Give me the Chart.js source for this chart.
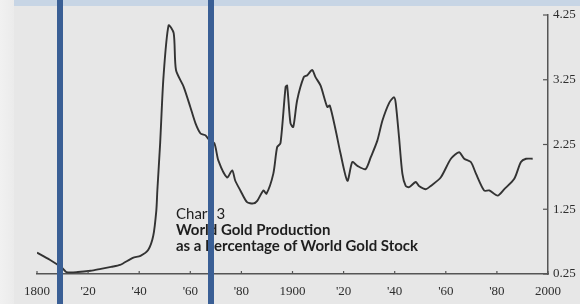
<!DOCTYPE html>
<html>
<head>
<meta charset="utf-8">
<script src="https://cdn.jsdelivr.net/npm/chart.js@4"></script>
<style>
  html, body { margin: 0; padding: 0; }
  body { width: 580px; height: 304px; background: #e7e7e7; position: relative; overflow: hidden; }
  #leftStrip { position: absolute; left: 0; top: 0; width: 14px; height: 304px; background: linear-gradient(to right, #f1f1f1, #ebebeb); }
  #topBand { position: absolute; left: 14px; top: 0; width: 566px; height: 6px; background: #c7d5e5; }
  #wrap { position: absolute; left: 0; top: 0; width: 580px; height: 304px; }
  #caption { position: absolute; left: 176px; top: 205px; font-family: Lato, "Open Sans", sans-serif; color: #1e1e1e; font-size: 15px; line-height: 16px; }
  #caption .b { font-weight: bold; }
  .marker { position: absolute; top: 0; width: 6px; height: 304px; background: #3a5f95; }
</style>
</head>
<body>
<div id="leftStrip"></div>
<div id="topBand"></div>
<div id="wrap"><canvas id="goldChart" width="580" height="304"></canvas></div>
<div id="caption">
  <div>Chart 3</div>
  <div class="b">World Gold Production</div>
  <div class="b">as a Percentage of World Gold Stock</div>
</div>
<div class="marker" id="m0"></div>
<div class="marker" id="m1"></div>
<script>
// Datos (año, % producción / stock)
const years = [1800, 1805, 1810, 1811.5, 1816, 1821, 1825, 1829, 1832.5, 1837.5,
  1840.5, 1843.5, 1845.5, 1846.7, 1847.1, 1848.2, 1849.5, 1851.5, 1853.5, 1854.4,
  1857.4, 1860, 1862, 1864, 1866, 1867, 1869.4, 1871, 1874.4, 1876.4,
  1877.6, 1879.6, 1882.2, 1884.7, 1886.2, 1888.6, 1889.8, 1892.5, 1894, 1895.3,
  1897.3, 1897.9, 1899.2, 1900.3, 1901.8, 1904.4, 1905.8, 1907.7, 1909, 1911,
  1913.6, 1914.6, 1916.9, 1918.8, 1921.5, 1923.4, 1925.4, 1928.6, 1930.6, 1933.2,
  1935.2, 1937.8, 1939.7, 1940.4, 1941.7, 1943, 1944.3, 1945.6, 1948.2, 1949.5,
  1952.2, 1954.1, 1958, 1962, 1965.2, 1967.2, 1969.8, 1971.8, 1975, 1977,
  1980.3, 1982.9, 1986.8, 1989.4, 1991.4, 1994];
const values = [0.58, 0.47, 0.34, 0.28, 0.28, 0.30, 0.33, 0.36, 0.39, 0.50,
  0.53, 0.62, 0.84, 1.23, 1.54, 2.27, 3.29, 4.09, 3.97, 3.40,
  3.14, 2.83, 2.58, 2.42, 2.39, 2.34, 2.27, 2.00, 1.74, 1.85,
  1.69, 1.54, 1.36, 1.34, 1.38, 1.54, 1.49, 1.80, 2.21, 2.27,
  3.14, 3.16, 2.58, 2.52, 2.93, 3.29, 3.32, 3.40, 3.29, 3.16,
  2.83, 2.85, 2.47, 2.11, 1.69, 1.98, 1.92, 1.87, 2.05, 2.31,
  2.62, 2.89, 2.98, 2.89, 2.36, 1.80, 1.61, 1.59, 1.67, 1.61,
  1.56, 1.61, 1.74, 2.03, 2.13, 2.03, 1.98, 1.80, 1.54, 1.54,
  1.46, 1.56, 1.72, 1.98, 2.03, 2.03];

const xTicks = [1800, 1820, 1840, 1860, 1880, 1900, 1920, 1940, 1960, 1980, 2000];
const xTickLabels = ['1800', "'20", "'40", "'60", "'80", '1900', "'20", "'40", "'60", "'80", '2000'];
const yTicks = [0.25, 1.25, 2.25, 3.25, 4.25];
const markerYears = [1809, 1868]; // las dos barras azules

// Marcas pequeñas hacia dentro en los ejes + barras azules
const innerTicks = {
  id: 'innerTicks',
  afterDraw(chart) {
    const ctx = chart.ctx;
    const xs = chart.scales.x, ys = chart.scales.y;
    const a = chart.chartArea;
    ctx.save();
    ctx.strokeStyle = '#555';
    ctx.lineWidth = 1.2;
    xTicks.forEach(v => {
      const px = xs.getPixelForValue(v);
      ctx.beginPath(); ctx.moveTo(px, a.bottom); ctx.lineTo(px, a.bottom - 3); ctx.stroke();
    });
    yTicks.forEach(v => {
      const py = ys.getPixelForValue(v);
      ctx.beginPath(); ctx.moveTo(a.right, py); ctx.lineTo(a.right - 5, py); ctx.stroke();
    });
    ctx.restore();
    markerYears.forEach((yr, i) => {
      document.getElementById('m' + i).style.left = (xs.getPixelForValue(yr) - 3) + 'px';
    });
  }
};

const ctx = document.getElementById('goldChart').getContext('2d');
new Chart(ctx, {
  type: 'line',
  data: {
    datasets: [{
      data: years.map((yr, i) => ({ x: yr, y: values[i] })),
      borderColor: '#333',
      borderWidth: 1.9,
      pointRadius: 0,
      tension: 0.25,
      fill: false
    }]
  },
  options: {
    responsive: false,
    animation: false,
    layout: { padding: { left: 37, top: 15, right: 0, bottom: 0 } },
    plugins: { legend: { display: false }, tooltip: { enabled: false } },
    scales: {
      x: {
        type: 'linear',
        min: 1800,
        max: 2000,
        afterFit(scale) { scale.height = 30; },
        afterBuildTicks(scale) { scale.ticks = xTicks.map(v => ({ value: v })); },
        grid: { display: false, drawTicks: false },
        border: { display: true, color: '#555', width: 1.5 },
        ticks: {
          padding: 10,
          color: '#2e2e2e',
          font: { family: 'Liberation Serif', size: 13 },
          maxRotation: 0,
          autoSkip: false,
          callback: (v) => xTickLabels[xTicks.indexOf(v)]
        }
      },
      y: {
        position: 'right',
        min: 0.25,
        max: 4.25,
        afterFit(scale) { scale.width = 32; },
        afterBuildTicks(scale) { scale.ticks = yTicks.map(v => ({ value: v })); },
        grid: { display: false, drawTicks: false },
        border: { display: true, color: '#555', width: 1.5 },
        ticks: {
          padding: 5,
          color: '#2e2e2e',
          font: { family: 'Liberation Serif', size: 13 },
          callback: (v) => v.toFixed(2)
        }
      }
    }
  },
  plugins: [innerTicks]
});
</script>
</body>
</html>
